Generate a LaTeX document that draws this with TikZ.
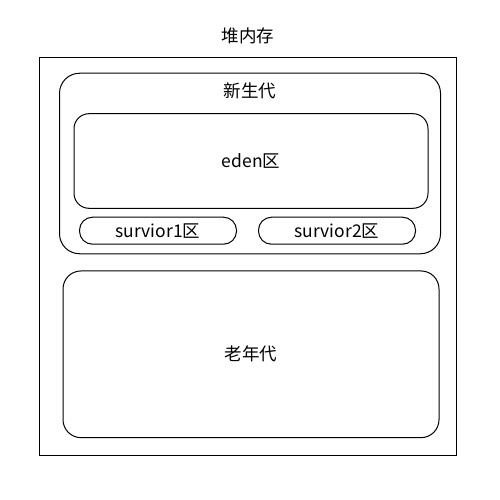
\documentclass[tikz,border=0pt]{standalone}
\usepackage{fontspec}
\setmainfont{Noto Sans CJK SC}
\usetikzlibrary{positioning}
\tikzstyle{area}=[draw, line width=1pt, inner sep=0pt, outer sep=0pt]
\tikzstyle{region}=[area, rounded corners=18pt]
\tikzstyle{survivor}=[area, rounded corners=13pt, minimum width=157pt, minimum height=27pt]
\tikzstyle{txt}=[font=\fontsize{17.5}{20}\selectfont]

\begin{document}
\begin{tikzpicture}[x=1pt, y=-1pt]
	\useasboundingbox (0,0) rectangle (500,500);
	\node[area, minimum width=417pt, minimum height=398pt] (heap) at (248,256.7){};
	\node[txt, above=10pt of heap.north] (heaplbl){堆内存};
	\node[region, rounded corners=20pt, minimum width=381pt, minimum height=180.5pt] (young) at (250,163.5){};
	\node[txt, below=6pt of young.north] (younglbl){新生代};
	\node[region, rounded corners=15pt, minimum width=354pt, minimum height=94.6pt, txt] (eden) at (251,161){eden区};
	\node[survivor, txt] (s1) at (158,230.7){survior1区};
	\node[survivor, txt] (s2) at (337,230.7){survior2区};
	\node[region, minimum width=376pt, minimum height=166.7pt, txt] (old) at (251,354.3){老年代};
\end{tikzpicture}
\end{document}
